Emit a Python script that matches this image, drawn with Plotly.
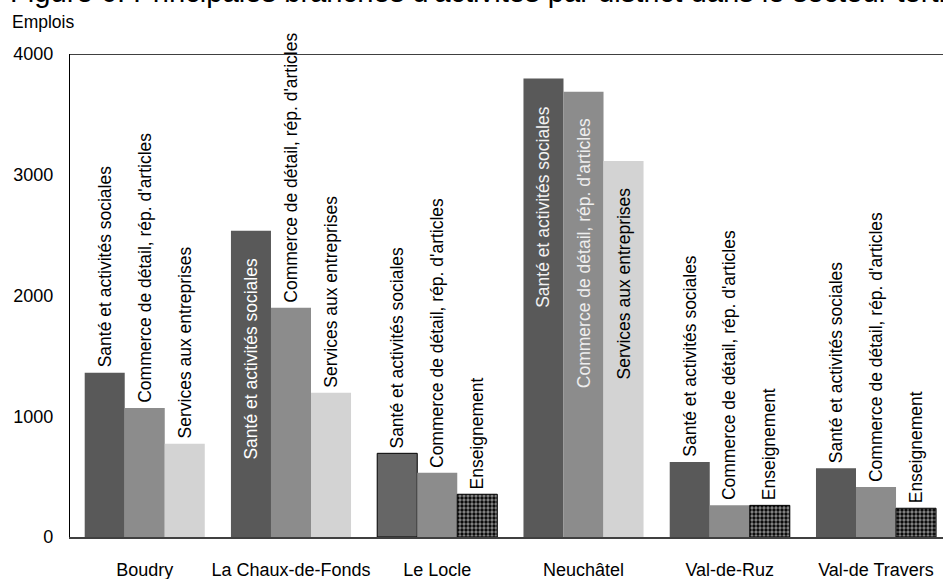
import plotly.graph_objects as go

# --- data -------------------------------------------------------------------
districts = ["Boudry", "La Chaux-de-Fonds", "Le Locle", "Neuchâtel",
             "Val-de-Ruz", "Val-de Travers"]

SANTE = "Santé et activités sociales"
COMMERCE = "Commerce de détail, rép. d'articles"
SERVICES = "Services aux entreprises"
ENSEIGNEMENT = "Enseignement"

# the three largest branches of each district, in decreasing order
rank1_branch = [SANTE, SANTE, SANTE, SANTE, SANTE, SANTE]
rank1_jobs = [1361, 2537, 693, 3798, 621, 569]

rank2_branch = [COMMERCE, COMMERCE, COMMERCE, COMMERCE, COMMERCE, COMMERCE]
rank2_jobs = [1068, 1899, 532, 3688, 262, 414]

rank3_branch = [SERVICES, SERVICES, ENSEIGNEMENT, SERVICES, ENSEIGNEMENT, ENSEIGNEMENT]
rank3_jobs = [773, 1195, 354, 3114, 262, 238]

y_ticks = [0, 1000, 2000, 3000, 4000]

# --- styling ----------------------------------------------------------------
FONT = "Liberation Sans, Arial, sans-serif"
branch_fill = {SANTE: "#595959", COMMERCE: "#8c8c8c",
               SERVICES: "#d3d3d3", ENSEIGNEMENT: "#000000"}
# bars drawn with a black outline (district, rank index)
outlined = {("Le Locle", 0): "#666666"}
# labels written inside the bar, with their colour
inside_labels = {("La Chaux-de-Fonds", 0): "white",
                 ("Neuchâtel", 0): "#f2f2f2",
                 ("Neuchâtel", 1): "#eeeeee",
                 ("Neuchâtel", 2): "black"}

MARGIN_L, MARGIN_R, MARGIN_T, MARGIN_B = 70, 0, 54, 42
WIDTH, HEIGHT = 943, 579
X_RANGE = [-0.511, 5.458]
BARGAP = 0.179

ranks = [(rank1_branch, rank1_jobs), (rank2_branch, rank2_jobs),
         (rank3_branch, rank3_jobs)]

fig = go.Figure()
for r, (branches, jobs) in enumerate(ranks):
    colors, shapes, line_w = [], [], []
    for d, b in zip(districts, branches):
        colors.append(outlined.get((d, r), branch_fill[b]))
        shapes.append("." if b == ENSEIGNEMENT else "")
        line_w.append(1 if (b == ENSEIGNEMENT or (d, r) in outlined) else 0)
    fig.add_trace(go.Bar(
        x=districts, y=jobs, name=f"rang {r + 1}",
        customdata=branches,
        hovertemplate="%{x}<br>%{customdata}: %{y}<extra></extra>",
        marker=dict(
            color=colors,
            line=dict(color="black", width=line_w),
            pattern=dict(shape=shapes, fgcolor="white", size=4, solidity=0.55),
        ),
    ))

# branch labels, rotated, above (or inside) each bar
plot_w = WIDTH - MARGIN_L - MARGIN_R
bar_px = plot_w / (X_RANGE[1] - X_RANGE[0]) * (1 - BARGAP) / 3
for r, (branches, jobs) in enumerate(ranks):
    for d, b, v in zip(districts, branches, jobs):
        inside = (d, r) in inside_labels
        fig.add_annotation(
            x=d, y=v, xref="x", yref="y", text=b, showarrow=False,
            textangle=-90, xshift=(r - 1) * bar_px,
            yanchor="top" if inside else "bottom",
            yshift=-25 if inside else 3,
            font=dict(family=FONT, size=17.5,
                      color=inside_labels.get((d, r), "black")),
        )

plot_h = HEIGHT - MARGIN_T - MARGIN_B
fig.add_annotation(
    xref="paper", yref="paper", x=-62 / plot_w, y=1 + 62 / plot_h,
    xanchor="left", yanchor="middle", showarrow=False,
    text="Figure 6: Principales branches d'activités par district dans le secteur tertiaire",
    font=dict(family=FONT, size=29.2, color="black"),
)
fig.add_annotation(
    xref="paper", yref="paper", x=-60 / plot_w, y=1 + 31.5 / plot_h,
    xanchor="left", yanchor="middle", showarrow=False, text="Emplois",
    font=dict(family=FONT, size=17.5, color="black"),
)
# upper frame line
fig.add_shape(type="line", xref="paper", yref="y", x0=0, x1=1, y0=4000, y1=4000,
              line=dict(color="black", width=1.6))

fig.update_layout(
    width=WIDTH, height=HEIGHT,
    margin=dict(l=MARGIN_L, r=MARGIN_R, t=MARGIN_T, b=MARGIN_B, autoexpand=False),
    paper_bgcolor="white", plot_bgcolor="white",
    barmode="group", bargap=BARGAP, bargroupgap=0,
    showlegend=False,
    font=dict(family=FONT, size=18, color="black"),
    xaxis=dict(range=X_RANGE, showgrid=False, showline=True, automargin=False,
               linecolor="#404040", linewidth=2, ticks="",
               ticklabelstandoff=15, tickfont=dict(size=18)),
    yaxis=dict(range=[0, 4000], tickvals=y_ticks, showgrid=False, automargin=False,
               zeroline=False, showline=True, linecolor="black", linewidth=1.2,
               ticks="", ticklabelstandoff=12, tickfont=dict(size=18)),
)

fig.write_html("out.html")
